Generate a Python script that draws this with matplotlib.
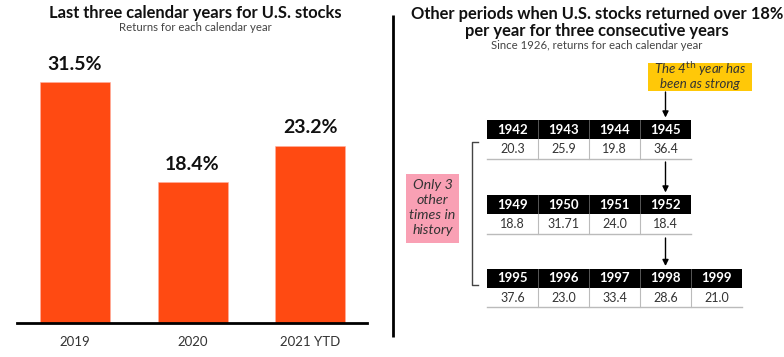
import matplotlib
matplotlib.use("Agg")
import matplotlib.pyplot as plt
from matplotlib.patches import Rectangle

# ---------------- data ----------------
categories = ["2019", "2020", "2021 YTD"]
returns = [31.5, 18.4, 23.2]

period1_years = ["1942", "1943", "1944", "1945"]
period1_returns = ["20.3", "25.9", "19.8", "36.4"]
period2_years = ["1949", "1950", "1951", "1952"]
period2_returns = ["18.8", "31.71", "24.0", "18.4"]
period3_years = ["1995", "1996", "1997", "1998", "1999"]
period3_returns = ["37.6", "23.0", "33.4", "28.6", "21.0"]

# ---------------- style ----------------
FONT = ["Lato", "DejaVu Sans"]
plt.rcParams["font.family"] = FONT
BAR_COLOR = "#FF4A12"
W, H = 784, 357
fig = plt.figure(figsize=(W / 100, H / 100), dpi=100)

# ---------------- left bar chart ----------------
axl = fig.add_axes([17 / W, 34 / H, 350 / W, 306 / H])
xs = range(len(categories))
bars = axl.bar(xs, returns, width=0.596, color=BAR_COLOR, edgecolor="#FFB0A0", linewidth=0.4)
for b, v in zip(bars, returns):
    axl.annotate(f"{v}%", (b.get_x() + b.get_width() / 2, v), xytext=(0, 6.5),
                 textcoords="offset points", ha="center", va="bottom",
                 fontsize=14, fontweight="bold", color="#111111")
axl.set_xlim(-0.494, 2.485)
axl.set_ylim(0, 40)
axl.set_xticks(list(xs))
axl.set_xticklabels(categories, fontsize=9.5, color="#333333")
axl.tick_params(axis="x", length=0, pad=9)
axl.set_yticks([])
for s in ("top", "right", "left"):
    axl.spines[s].set_visible(False)
axl.spines["bottom"].set_linewidth(2)
axl.spines["bottom"].set_color("black")

fig.text(195 / W, 1 - 13 / H, "Last three calendar years for U.S. stocks", ha="center", va="center",
         fontsize=11.9, fontweight="bold", color="#111111")
fig.text(195 / W, 1 - 27.5 / H, "Returns for each calendar year", ha="center", va="center",
         fontsize=8.2, color="#444444")

# ---------------- right panel ----------------
ov = fig.add_axes([0, 0, 1, 1])
ov.set_xlim(0, W)
ov.set_ylim(H, 0)
ov.axis("off")

# divider
ov.plot([393, 393], [15, 337], color="black", lw=2, solid_capstyle="butt")

fig.text(597 / W, 1 - 13.5 / H, "Other periods when U.S. stocks returned over 18%", ha="center",
         va="center", fontsize=11.9, fontweight="bold", color="#111111")
fig.text(597 / W, 1 - 31 / H, "per year for three consecutive years", ha="center",
         va="center", fontsize=11.9, fontweight="bold", color="#111111")
fig.text(597 / W, 1 - 45.5 / H, "Since 1926, returns for each calendar year", ha="center",
         va="center", fontsize=8.2, color="#444444")

X0, CW, HH, VH = 487, 51, 19, 19.5


def draw_table(top, years, vals):
    n = len(years)
    for i, (yr, v) in enumerate(zip(years, vals)):
        x = X0 + i * CW
        ov.add_patch(Rectangle((x, top), CW, HH, facecolor="black", edgecolor="none"))
        ov.text(x + CW / 2, top + HH / 2 + 0.5, yr, ha="center", va="center", color="white",
                fontsize=9.5, fontweight="bold")
        ov.text(x + CW / 2, top + HH + VH / 2 + 0.5, v, ha="center", va="center",
                color="#333333", fontsize=9)
        if i > 0:
            ov.plot([x, x], [top, top + HH], color="#666666", lw=0.6)
            ov.plot([x, x], [top + HH, top + HH + VH], color="#BBBBBB", lw=0.8)
    ov.plot([X0, X0 + n * CW], [top + HH + VH, top + HH + VH], color="#BBBBBB", lw=1)


draw_table(120, period1_years, period1_returns)
draw_table(195, period2_years, period2_returns)
draw_table(268.5, period3_years, period3_returns)

# arrows
AX = X0 + 3.5 * CW
for y0, y1 in [(92, 117.5), (162, 192.5), (238, 266)]:
    ov.annotate("", xy=(AX, y1), xytext=(AX, y0),
                arrowprops=dict(arrowstyle="-|>", color="black", lw=1, mutation_scale=9,
                                shrinkA=0, shrinkB=0))

# yellow callout
ov.add_patch(Rectangle((648, 62.5), 104, 28, facecolor="#FFC808", edgecolor="none"))
ov.text(700, 69, r"The 4$^{\mathrm{th}}$ year has", ha="center", va="center", fontsize=9.5,
        style="italic", color="#333333")
ov.text(700, 83.5, "been as strong", ha="center", va="center", fontsize=9.5,
        style="italic", color="#333333")

# bracket
ov.plot([478, 472, 472, 478], [142, 142, 285, 285], color="#444444", lw=1)

# pink callout
ov.add_patch(Rectangle((406, 174), 53, 69, facecolor="#F9A0B4", edgecolor="none"))
for k, line in enumerate(["Only 3", "other", "times in", "history"]):
    ov.text(432.5, 185 + k * 15, line, ha="center", va="center",
            fontsize=10.3, style="italic", color="#333333")

fig.savefig("out.png", dpi=100)
